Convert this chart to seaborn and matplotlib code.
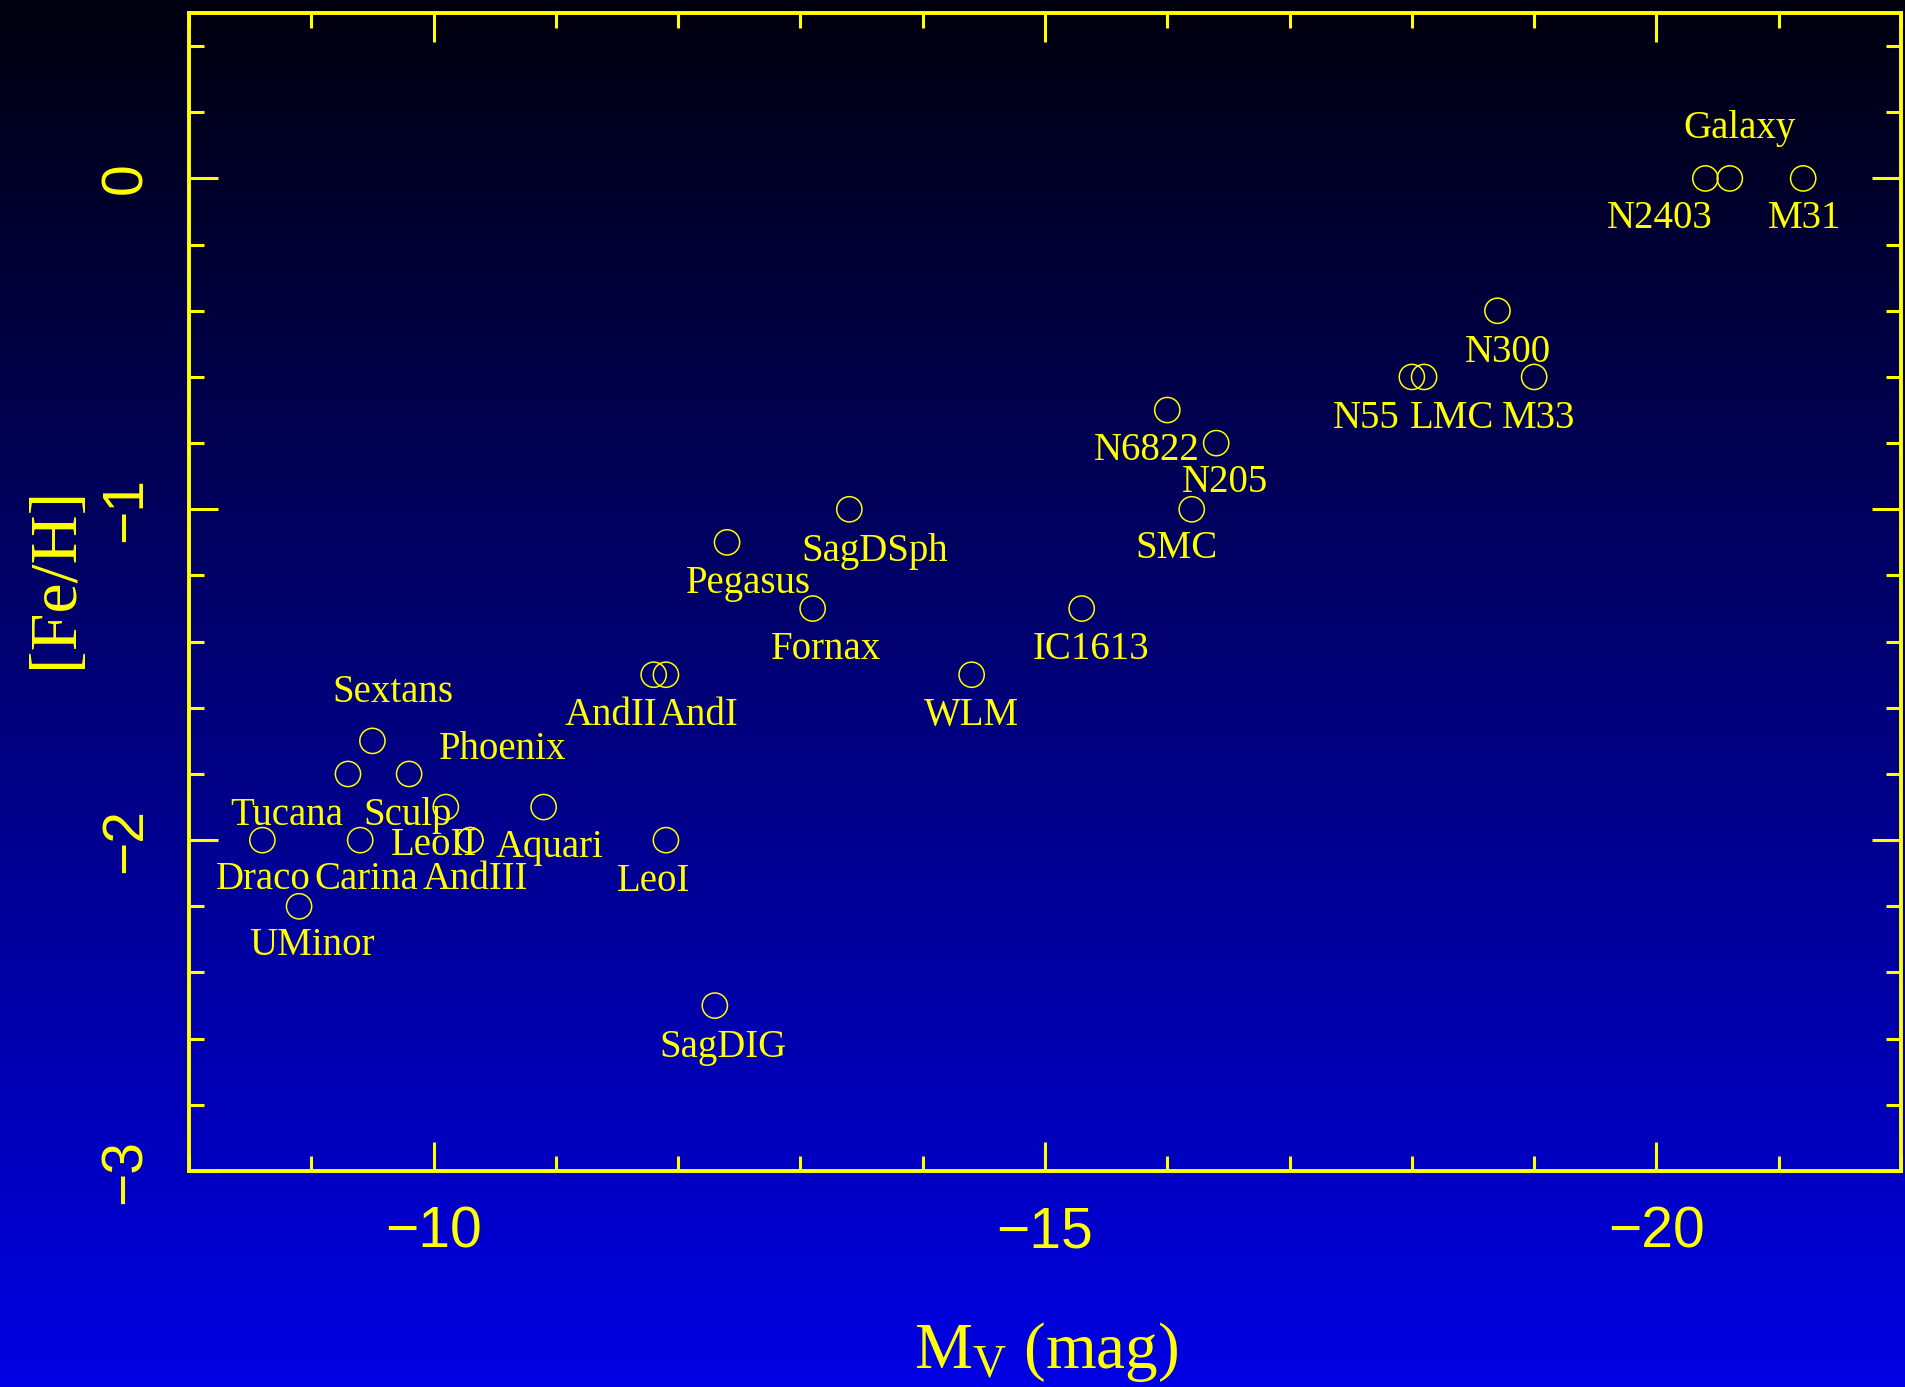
import numpy as np
import pandas as pd
import matplotlib
matplotlib.use("Agg")
import matplotlib.pyplot as plt
from matplotlib import font_manager
from matplotlib.ticker import MultipleLocator, FixedLocator
import seaborn as sns

# ---------------- data ----------------
names = ["Draco", "UMinor", "Carina", "Tucana", "Sextans", "Phoenix", "Sculp",
         "AndIII", "LeoII", "Aquari", "LeoI", "SagDIG", "AndII", "AndI",
         "Pegasus", "SagDSph", "Fornax", "WLM", "IC1613", "N6822", "N205",
         "SMC", "N55", "LMC", "N300", "M33", "N2403", "Galaxy", "M31"]
mv = [-8.6, -8.9, -9.4, -9.3, -9.5, -9.8, -10.1,
      -10.3, -10.3, -10.9, -11.9, -12.3, -11.8, -11.9,
      -12.4, -13.4, -13.1, -14.4, -15.3, -16.0, -16.4,
      -16.2, -18.0, -18.1, -18.7, -19.0, -20.4, -20.6, -21.2]
feh = [-2.0, -2.2, -2.0, -1.8, -1.7, -1.8, -1.9,
       -2.0, -2.0, -1.9, -2.0, -2.5, -1.5, -1.5,
       -1.1, -1.0, -1.3, -1.5, -1.3, -0.7, -0.8,
       -1.0, -0.6, -0.6, -0.4, -0.6, 0.0, 0.0, 0.0]
x_major_ticks = [-10, -15, -20]
y_major_ticks = [0, -1, -2, -3]
x_label = r"M$_{\rm V}$ (mag)"
y_label = "[Fe/H]"

# label placement (layout only): pixel offsets (right, down) of text baseline + alignment
label_offsets = {
    "Draco": (1, 49, "center"), "UMinor": (13, 49, "center"),
    "Carina": (-46, 49, "left"), "Tucana": (-61, 51, "center"),
    "Sextans": (20, -39, "center"), "Phoenix": (94, -15, "center"),
    "Sculp": (-38, 18, "center"), "AndIII": (-48, 49, "left"),
    "LeoII": (7, 15, "right"), "Aquari": (-48, 50, "left"),
    "LeoI": (-12, 51, "center"), "SagDIG": (8, 51, "center"),
    "AndII": (4, 50, "right"), "AndI": (-7, 50, "left"),
    "Pegasus": (21, 51, "center"), "SagDSph": (25, 52, "center"),
    "Fornax": (13, 50, "center"), "WLM": (0, 50, "center"),
    "IC1613": (9, 50, "center"), "N6822": (-20, 50, "center"),
    "N205": (9, 49, "center"), "SMC": (-15, 49, "center"),
    "N55": (-12, 51, "right"), "LMC": (-14, 51, "left"),
    "N300": (10, 51, "center"), "M33": (4, 51, "center"),
    "N2403": (-46, 50, "center"), "Galaxy": (10, -40, "center"),
    "M31": (1, 50, "center"),
}

df = pd.DataFrame({"name": names, "Mv": mv, "FeH": feh})

# ---------------- style ----------------
sns.set_theme(style="white")
avail = {f.name for f in font_manager.fontManager.ttflist}
serif = "Liberation Serif" if "Liberation Serif" in avail else "DejaVu Serif"
if "Liberation Sans Narrow" in avail:
    tick_family = "Liberation Sans Narrow"
elif "Liberation Sans" in avail:
    tick_family = "Liberation Sans"
else:
    tick_family = "DejaVu Sans"
plt.rcParams["font.family"] = [serif, "DejaVu Serif"]
plt.rcParams["mathtext.fontset"] = "custom"
plt.rcParams["mathtext.rm"] = serif
plt.rcParams["mathtext.it"] = serif + ":italic"
plt.rcParams["axes.unicode_minus"] = True

YEL = "#ffff00"
W, H, DPI = 1905, 1387, 100
fig = plt.figure(figsize=(W / DPI, H / DPI), dpi=DPI, facecolor="#0000e0")

# gradient background
bg = fig.add_axes([0, 0, 1, 1], zorder=0)
grad = np.linspace(0, 1, 512)[:, None]
top = np.array([0, 0, 14]) / 255.0
bot = np.array([0, 0, 228]) / 255.0
img = top[None, None, :] * (1 - grad[..., None]) + bot[None, None, :] * grad[..., None]
bg.imshow(img, aspect="auto", extent=[0, 1, 0, 1], origin="upper")
bg.set_axis_off()

ax = fig.add_axes([189 / W, (H - 1171) / H, 1712 / W, 1158 / H], zorder=1)
ax.set_facecolor("none")

sns.scatterplot(data=df, x="Mv", y="FeH", ax=ax, marker="o", s=330,
                linewidth=1.1, legend=False)
for coll in ax.collections:
    coll.set_facecolor("none")
    coll.set_edgecolor(YEL)
    coll.set_linewidth(1.1)

for _, row in df.iterrows():
    dx, dy, ha = label_offsets[row["name"]]
    ax.annotate(row["name"], (row["Mv"], row["FeH"]), xytext=(dx, -dy),
                textcoords="offset pixels", ha=ha, va="baseline",
                color=YEL, fontsize=28, family=[serif, "DejaVu Serif"])

ax.set_xlim(-8, -22)
ax.set_ylim(-3, 0.5)

ax.xaxis.set_major_locator(FixedLocator(x_major_ticks))
ax.xaxis.set_minor_locator(MultipleLocator(1))
ax.yaxis.set_major_locator(FixedLocator(y_major_ticks))
ax.yaxis.set_minor_locator(MultipleLocator(0.2))

for s in ax.spines.values():
    s.set_color(YEL)
    s.set_linewidth(2.8)
    s.set_visible(True)

ax.tick_params(which="both", direction="in", color=YEL, top=True, right=True,
               bottom=True, left=True, width=2.2)
ax.tick_params(which="major", length=21)
ax.tick_params(which="minor", length=10.5)
ax.tick_params(axis="x", which="major", pad=25, labelcolor=YEL, labelsize=41)
ax.tick_params(axis="y", which="major", pad=26, labelcolor=YEL, labelsize=41,
               labelrotation=90)
for lbl in ax.get_xticklabels() + ax.get_yticklabels():
    lbl.set_family([tick_family, "DejaVu Sans"])
for lbl in ax.get_yticklabels():
    lbl.set_va("center")

ax.set_xlabel(x_label, color=YEL, fontsize=47, va="baseline", ha="center")
ax.xaxis.set_label_coords((1046 - 189) / 1712, (1171 - 1368) / 1158)
ax.set_ylabel(y_label, color=YEL, fontsize=49, va="center", ha="center")
ax.yaxis.set_label_coords((56 - 189) / 1712, (1171 - 577) / 1158)

fig.savefig("out.png", dpi=DPI, facecolor=fig.get_facecolor())
